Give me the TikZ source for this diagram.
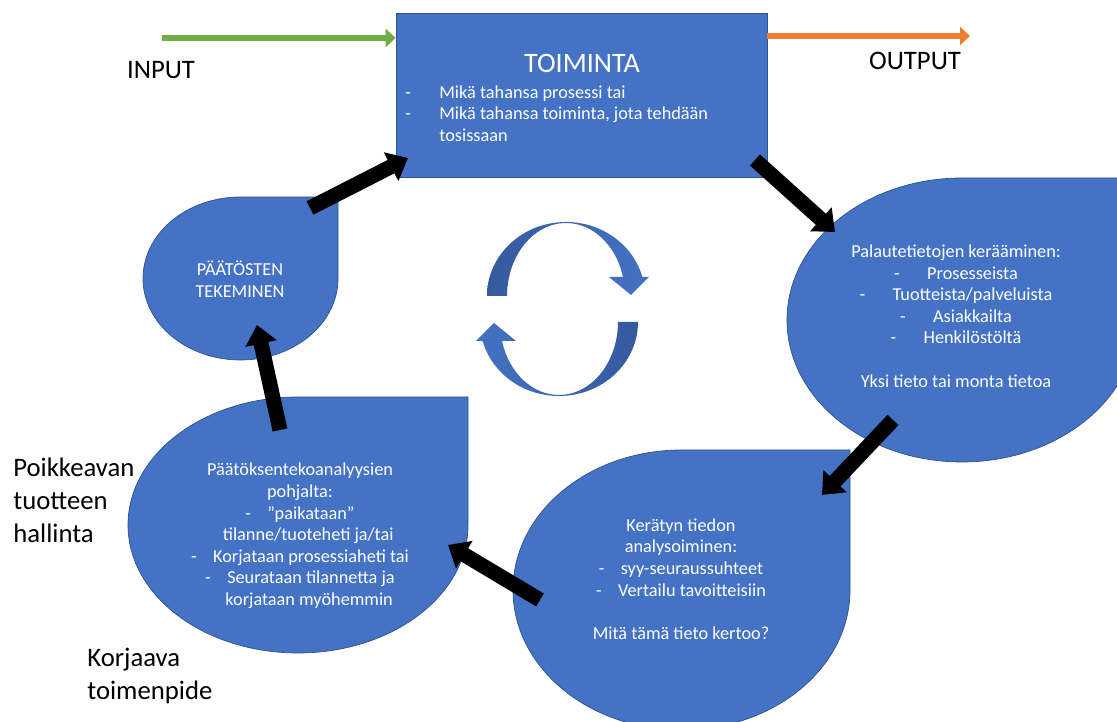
\documentclass[tikz,border=0pt]{standalone}
\usepackage{fontspec}
\setmainfont{Carlito}
\usepackage{xcolor}
\usepackage{tikz}
\usetikzlibrary{arrows.meta}
\definecolor{sininen}{HTML}{4472C4}
\definecolor{reuna}{HTML}{2F528F}
\definecolor{tumma}{HTML}{345A9E}
\definecolor{vihrea}{HTML}{70AD47}
\definecolor{oranssi}{HTML}{ED7D31}
\tikzset{
laatikko/.style={fill=sininen,draw=reuna,line width=0.4pt,inner sep=0pt},
pisara/.style={fill=sininen,draw=reuna,line width=0.4pt},
nuoli/.style={line width=0.3cm,-{Triangle[length=0.38cm,width=0.62cm]}},
ohut/.style={line width=0.13cm,-{Triangle[length=0.2cm,width=0.36cm]}},
valkoinen/.style={text=white,font=\fontsize{10.4}{12.3}\selectfont,align=center,inner sep=0pt},
iso/.style={font=\fontsize{15.2}{18.8}\selectfont,inner sep=0pt}
}
\begin{document}
\begin{tikzpicture}[x=0.02cm,y=0.02cm]
\useasboundingbox (0,0) rectangle (1117,722);
\begin{scope}
\clip (0,0) rectangle (1117,722);
% toiminta
\node[laatikko,minimum width=7.42cm,minimum height=3.28cm] (toiminta) at (581.5,627) {};
\node[text=white,font=\fontsize{16}{19}\selectfont,inner sep=0pt] (otsikko) at (582,659) {TOIMINTA};
\node[valkoinen,align=left,anchor=north west] (kohdat) at (405,637)
{\makebox[0.68cm][l]{-}Mikä tahansa prosessi tai\\
\makebox[0.68cm][l]{-}Mikä tahansa toiminta, jota tehdään\\
\hspace*{0.68cm}tosissaan};
% input ja output
\coordinate (inputalku) at (162,684);
\coordinate (outputloppu) at (970,686);
\draw[ohut,vihrea] (inputalku)--(toiminta.west|-inputalku);
\draw[ohut,oranssi] (toiminta.east|-outputloppu)--(outputloppu);
\node[iso] (input) at (161,652) {INPUT};
\node[iso] (output) at (915,661) {OUTPUT};
% pisarat
\filldraw[pisara] (143,443.5) arc[start angle=180,end angle=90,x radius=97.5,y radius=81.5]
-| (338,443.5) arc[start angle=0,end angle=-180,x radius=97.5,y radius=81.5] -- cycle;
\filldraw[pisara] (787,402) arc[start angle=180,end angle=90,x radius=175,y radius=142]
-| (1137,402) arc[start angle=0,end angle=-180,x radius=175,y radius=142] -- cycle;
\filldraw[pisara] (513,132) arc[start angle=180,end angle=90,x radius=168.5,y radius=140]
-| (850,132) arc[start angle=0,end angle=-180,x radius=168.5,y radius=140] -- cycle;
\filldraw[pisara] (128,197) arc[start angle=180,end angle=90,x radius=170,y radius=128]
-| (468,197) arc[start angle=0,end angle=-180,x radius=170,y radius=128] -- cycle;
\node[valkoinen] (paatokset) at (240,443) {PÄÄTÖSTEN\\TEKEMINEN};
\node[valkoinen] (palaute) at (956,406) {Palautetietojen kerääminen:\\
-\hspace{1.5em}Prosesseista\\
-\hspace{1.5em}Tuotteista/palveluista\\
-\hspace{1.5em}Asiakkailta\\
-\hspace{1.5em}Henkilöstöltä\\[12.3pt]
Yksi tieto tai monta tietoa};
\node[valkoinen] (analyysi) at (681,143) {Kerätyn tiedon\\
analysoiminen:\\
-\hspace{0.9em}syy-seuraussuhteet\\
-\hspace{0.9em}Vertailu tavoitteisiin\\[12.3pt]
Mitä tämä tieto kertoo?};
\node[valkoinen] (korjaus) at (300,186) {Päätöksentekoanalyysien\\
pohjalta:\\
-\hspace{0.9em}”paikataan”\\
\hspace*{0.9em}tilanne/tuoteheti ja/tai\\
-\hspace{0.9em}Korjataan prosessiaheti tai\\
-\hspace{0.9em}Seurataan tilannetta ja\\
\hspace*{1em}korjataan myöhemmin};
% reunatekstit
\node[iso,align=left,anchor=north west] (poikkeava) at (13,264) {Poikkeavan\\tuotteen\\hallinta};
\node[iso,align=left,anchor=north west] (korjaava) at (87,74) {Korjaava\\toimenpide};
% kiertonuolet
\shade[left color=tumma,right color=sininen] (487,426) arc[start angle=180,end angle=14.9,x radius=79,y radius=74]
-- (649,445) -- (631,427) -- (609,445) -- (623,445)
arc[start angle=15.1,end angle=180,x radius=59,y radius=73] -- cycle;
\shade[left color=sininen,right color=tumma] (638,400) arc[start angle=0,end angle=-165.1,x radius=79,y radius=74]
-- (476,381) -- (494,399) -- (516,381) -- (502,381)
arc[start angle=-164.9,end angle=0,x radius=59,y radius=73] -- cycle;
% mustat nuolet
\coordinate (a1) at (310,514);
\coordinate (a2) at (408,564);
\coordinate (b1) at (755,562);
\coordinate (b2) at (835,490);
\coordinate (c1) at (893,302);
\coordinate (c2) at (822,227);
\coordinate (d1) at (540,122);
\coordinate (d2) at (448,177);
\coordinate (e1) at (280,292);
\coordinate (e2) at (257,397);
\draw[nuoli](a1)--(a2);
\draw[nuoli](b1)--(b2);
\draw[nuoli](c1)--(c2);
\draw[nuoli](d1)--(d2);
\draw[nuoli](e1)--(e2);
\end{scope}
\end{tikzpicture}
\end{document}
